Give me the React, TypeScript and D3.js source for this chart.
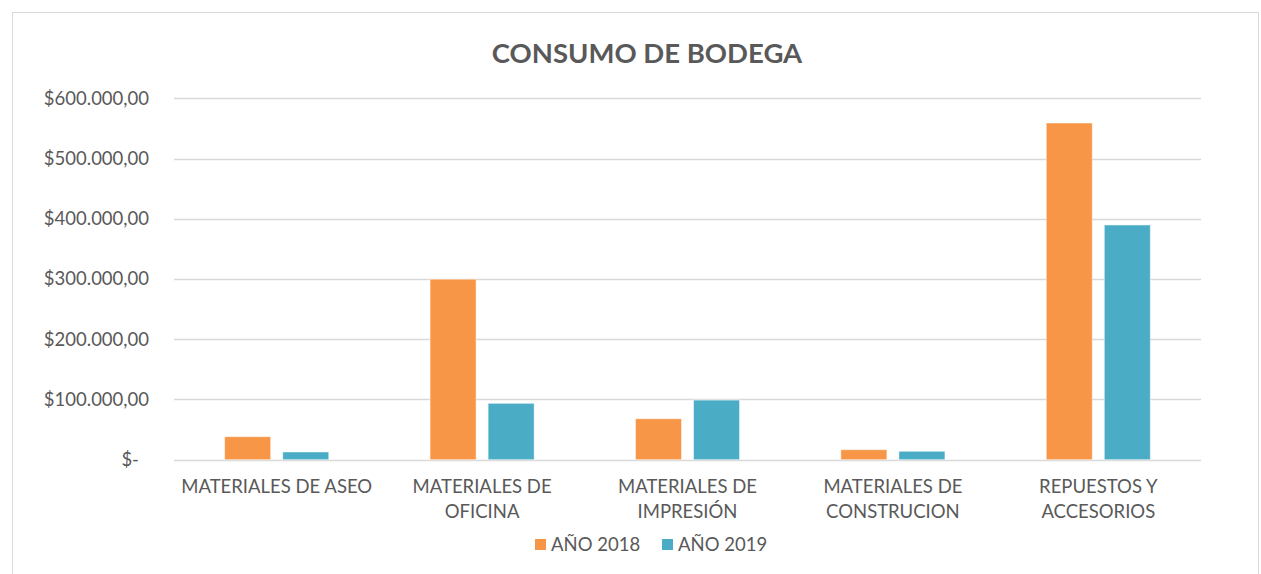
import React, { useEffect, useRef } from "react";
import * as d3 from "d3";

const categories: string[][] = [
  ["MATERIALES DE ASEO"],
  ["MATERIALES DE", "OFICINA"],
  ["MATERIALES DE", "IMPRESIÓN"],
  ["MATERIALES DE", "CONSTRUCION"],
  ["REPUESTOS Y", "ACCESORIOS"],
];
const series = ["AÑO 2018", "AÑO 2019"];
const values2018 = [38200, 299700, 68000, 16600, 559000];
const values2019 = [12800, 93600, 99000, 14000, 389700];
const yTicks = [0, 100000, 200000, 300000, 400000, 500000, 600000];
const colors = ["#F79646", "#4BACC6"];
const title = "CONSUMO DE BODEGA";

const W = 1261;
const H = 574;
const FONT = "Lato, 'Open Sans', sans-serif";
const TEXT = "#595959";
const FS = 18.5;

function fmt(v: number): string {
  if (v === 0) return "$-";
  const s = d3.format(",.2f")(v);
  return "$" + s.replace(/,/g, "#").replace(/\./g, ",").replace(/#/g, ".");
}

export default function App() {
  const ref = useRef<SVGSVGElement>(null);
  useEffect(() => {
    const svg = d3.select(ref.current);
    svg.selectAll("*").remove();
    const left = 174, right = 1201, top = 98.3, bottom = 459.7;

    svg.append("rect").attr("x", 0).attr("y", 0).attr("width", W).attr("height", H).attr("fill", "#fff");
    svg.append("rect").attr("x", 12.5).attr("y", 12.5).attr("width", 1246).attr("height", 600)
      .attr("fill", "none").attr("stroke", "#d9d9d9").attr("stroke-width", 1);

    const y = d3.scaleLinear().domain([0, 600000]).range([bottom, top]);
    const x0 = d3.scaleBand<number>().domain(categories.map((_, i) => i)).range([left, right]).paddingInner(0.4932).paddingOuter(0.2466);
    const x1 = d3.scaleBand<number>().domain([0, 1]).range([0, x0.bandwidth()]).paddingInner(12 / 58).paddingOuter(0);

    // gridlines
    svg.append("g").selectAll("line").data(yTicks).join("line")
      .attr("x1", left).attr("x2", right)
      .attr("y1", (d) => Math.round(y(d)) + 0.5).attr("y2", (d) => Math.round(y(d)) + 0.5)
      .attr("stroke", "#d9d9d9").attr("stroke-width", 1.3);

    // y labels
    svg.append("g").selectAll("text").data(yTicks).join("text")
      .attr("x", (d) => (d === 0 ? 139 : 149))
      .attr("y", (d) => y(d))
      .attr("dy", "0.35em")
      .attr("text-anchor", "end")
      .attr("font-family", FONT).attr("font-size", FS).attr("fill", TEXT)
      .text((d) => fmt(d));

    const data = [values2018, values2019];
    const g = svg.append("g");
    categories.forEach((_, ci) => {
      data.forEach((vals, si) => {
        g.append("rect")
          .attr("x", (x0(ci) as number) + (x1(si) as number))
          .attr("y", y(vals[ci]))
          .attr("width", x1.bandwidth())
          .attr("height", bottom - y(vals[ci]))
          .attr("fill", colors[si])
          .attr("stroke", "#fff").attr("stroke-opacity", 0.5).attr("stroke-width", 1);
      });
    });

    // x labels
    const xl = svg.append("g");
    categories.forEach((lines, ci) => {
      const cx = (x0(ci) as number) + x0.bandwidth() / 2;
      lines.forEach((ln, li) => {
        xl.append("text").attr("x", cx).attr("y", 487 + li * 25).attr("dy", "0.35em")
          .attr("text-anchor", "middle").attr("font-family", FONT).attr("font-size", FS).attr("fill", TEXT)
          .text(ln);
      });
    });

    // title
    svg.append("text").attr("x", 647).attr("y", 53).attr("dy", "0.35em").attr("text-anchor", "middle")
      .attr("font-family", FONT).attr("font-size", 27.5).attr("font-weight", "bold").attr("fill", TEXT)
      .text(title);

    // legend
    const lg = svg.append("g");
    const legendX = [535, 662];
    series.forEach((s, i) => {
      lg.append("rect").attr("x", legendX[i]).attr("y", 539).attr("width", 11).attr("height", 11).attr("fill", colors[i]);
      lg.append("text").attr("x", legendX[i] + 16).attr("y", 545).attr("dy", "0.35em")
        .attr("font-family", FONT).attr("font-size", FS).attr("fill", TEXT).text(s);
    });
  }, []);
  return <svg ref={ref} width={W} height={H} style={{ position: "absolute", left: 0, top: 0 }} />;
}
